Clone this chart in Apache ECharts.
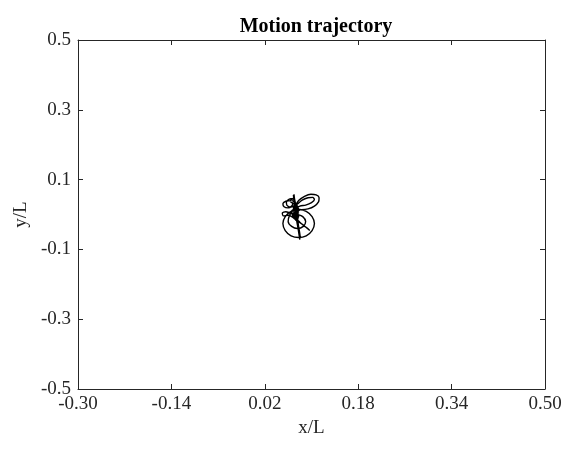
<!DOCTYPE html>
<html>
<head>
<meta charset="utf-8">
<script src="https://cdn.jsdelivr.net/npm/echarts@6/dist/echarts.min.js"></script>
<style>
  html, body { margin: 0; padding: 0; background: #fff; }
  #chart { width: 568px; height: 454px; }
</style>
</head>
<body>
<div id="chart"></div>
<script>
// Axis tick labels
const xTicks = ['-0.30', '-0.14', '0.02', '0.18', '0.34', '0.50'];
const yTicks = ['-0.5', '-0.3', '-0.1', '0.1', '0.3', '0.5'];

// Trajectory samples: x/L and y/L, in time order
const trajectoryX = [
  // first sweep along the main stroke
  0.069, 0.071, 0.074, 0.077, 0.080,
  0.078, 0.075, 0.072, 0.070,
  // small loop on the left
  0.064, 0.056, 0.051, 0.053, 0.060, 0.066, 0.068, 0.064,
  // knot near the centre
  0.070, 0.076, 0.072, 0.078, 0.070, 0.075, 0.068, 0.066, 0.073, 0.079, 0.074,
  // large upper-right loop
  0.072, 0.078, 0.088, 0.099, 0.108, 0.113, 0.112, 0.105, 0.094, 0.083, 0.075, 0.071,
  // smaller upper-right loop
  0.076, 0.084, 0.094, 0.102, 0.105, 0.100, 0.090, 0.080,
  0.070, 0.076, 0.071, 0.077, 0.073,
  // large lower loop
  0.078, 0.065, 0.055, 0.051, 0.055, 0.065, 0.078, 0.091, 0.101, 0.105, 0.101, 0.091, 0.079, 0.068,
  // inner lower loop
  0.062, 0.060, 0.066, 0.076, 0.086, 0.090, 0.085, 0.076,
  // lower-left loop and diagonal crossing
  0.064, 0.056, 0.050, 0.052, 0.060, 0.066, 0.074, 0.084, 0.092, 0.097,
  0.090, 0.080, 0.072, 0.068, 0.074, 0.070, 0.077, 0.071,
  // second sweep along the main stroke
  0.070, 0.073, 0.076, 0.079, 0.081,
  0.079, 0.076, 0.074, 0.071, 0.068,
  // upper-left loop
  0.062, 0.057, 0.058, 0.064, 0.070, 0.072, 0.067,
  0.073, 0.069, 0.075, 0.071, 0.076, 0.072, 0.078,
  // third sweep along the main stroke
  0.075, 0.073, 0.071, 0.070, 0.072, 0.075, 0.078, 0.080,
  0.077, 0.074, 0.073,
  // tight knot at the centre
  0.069, 0.075, 0.070, 0.076, 0.071, 0.077, 0.072, 0.075
];
const trajectoryY = [
  0.056, 0.030, 0.000, -0.030, -0.066,
  -0.040, -0.010, 0.020, 0.048,
  0.040, 0.038, 0.031, 0.022, 0.019, 0.024, 0.032, 0.036,
  0.030, 0.022, 0.012, 0.004, 0.000, -0.008, -0.004, 0.010, 0.016, 0.010, 0.028,
  0.024, 0.040, 0.052, 0.058, 0.056, 0.048, 0.036, 0.024, 0.016, 0.014, 0.017, 0.022,
  0.030, 0.041, 0.048, 0.049, 0.043, 0.034, 0.027, 0.024,
  0.014, 0.006, -0.004, -0.012, -0.018,
  0.014, 0.009, -0.006, -0.026, -0.046, -0.061, -0.066, -0.061, -0.046, -0.026, -0.006, 0.009, 0.014, 0.011,
  -0.004, -0.020, -0.034, -0.040, -0.034, -0.020, -0.006, 0.000,
  0.004, 0.008, 0.004, -0.004, -0.002, -0.006, -0.016, -0.028, -0.038, -0.046,
  -0.036, -0.022, -0.010, 0.002, 0.012, 0.020, 0.014, 0.026,
  0.050, 0.020, -0.015, -0.050, -0.068,
  -0.045, -0.020, 0.005, 0.035, 0.046,
  0.044, 0.036, 0.026, 0.021, 0.025, 0.034, 0.040,
  0.030, 0.018, 0.008, -0.002, -0.010, -0.016, -0.006,
  0.010, 0.028, 0.044, 0.058, 0.030, 0.000, -0.036, -0.072,
  -0.040, -0.012, 0.000,
  0.012, 0.020, 0.026, 0.016, 0.006, -0.002, -0.010, 0.004
];

const trajectory = trajectoryX.map((x, i) => [x, trajectoryY[i]]);

const FONT = '"Liberation Serif", "Times New Roman", serif';
const xMin = parseFloat(xTicks[0]), xMax = parseFloat(xTicks[xTicks.length - 1]);
const yMin = parseFloat(yTicks[0]), yMax = parseFloat(yTicks[yTicks.length - 1]);
const xStep = parseFloat(xTicks[1]) - parseFloat(xTicks[0]);
const yStep = parseFloat(yTicks[1]) - parseFloat(yTicks[0]);

const chart = echarts.init(document.getElementById('chart'), null, { renderer: 'canvas' });

const axisLineStyle = { color: '#262626', width: 1 };
const baseX = {
  type: 'value', min: xMin, max: xMax, interval: xStep,
  splitLine: { show: false },
  axisLine: { show: true, onZero: false, lineStyle: axisLineStyle },
  axisTick: { show: true, inside: true, length: 5, lineStyle: axisLineStyle }
};
const baseY = {
  type: 'value', min: yMin, max: yMax, interval: yStep,
  splitLine: { show: false },
  axisLine: { show: true, onZero: false, lineStyle: axisLineStyle },
  axisTick: { show: true, inside: true, length: 5, lineStyle: axisLineStyle }
};

chart.setOption({
  animation: false,
  backgroundColor: '#fff',
  title: {
    text: 'Motion trajectory',
    left: 311, top: 12, textAlign: 'center',
    textStyle: { fontFamily: FONT, fontWeight: 'bold', fontSize: 20, color: '#000' }
  },
  grid: { left: 78, right: 23, top: 40, bottom: 65 },
  xAxis: [
    Object.assign({}, baseX, {
      position: 'bottom',
      name: 'x/L', nameLocation: 'middle', nameGap: 30,
      nameTextStyle: { fontFamily: FONT, fontSize: 19, color: '#262626' },
      axisLabel: {
        fontFamily: FONT, fontSize: 19, color: '#262626', margin: 6,
        formatter: v => xTicks[Math.round((v - xMin) / xStep)]
      }
    }),
    Object.assign({}, baseX, { position: 'top', axisLabel: { show: false } })
  ],
  yAxis: [
    Object.assign({}, baseY, {
      position: 'left',
      name: 'y/L', nameLocation: 'middle', nameGap: 44,
      nameTextStyle: { fontFamily: FONT, fontSize: 19, color: '#262626' },
      axisLabel: {
        fontFamily: FONT, fontSize: 19, color: '#262626', margin: 7,
        formatter: v => yTicks[Math.round((v - yMin) / yStep)]
      }
    }),
    Object.assign({}, baseY, { position: 'right', axisLabel: { show: false } })
  ],
  series: [{
    type: 'line',
    data: trajectory,
    showSymbol: false,
    smooth: 0.3,
    lineStyle: { color: '#000', width: 1.4 }
  }]
});
</script>
</body>
</html>
